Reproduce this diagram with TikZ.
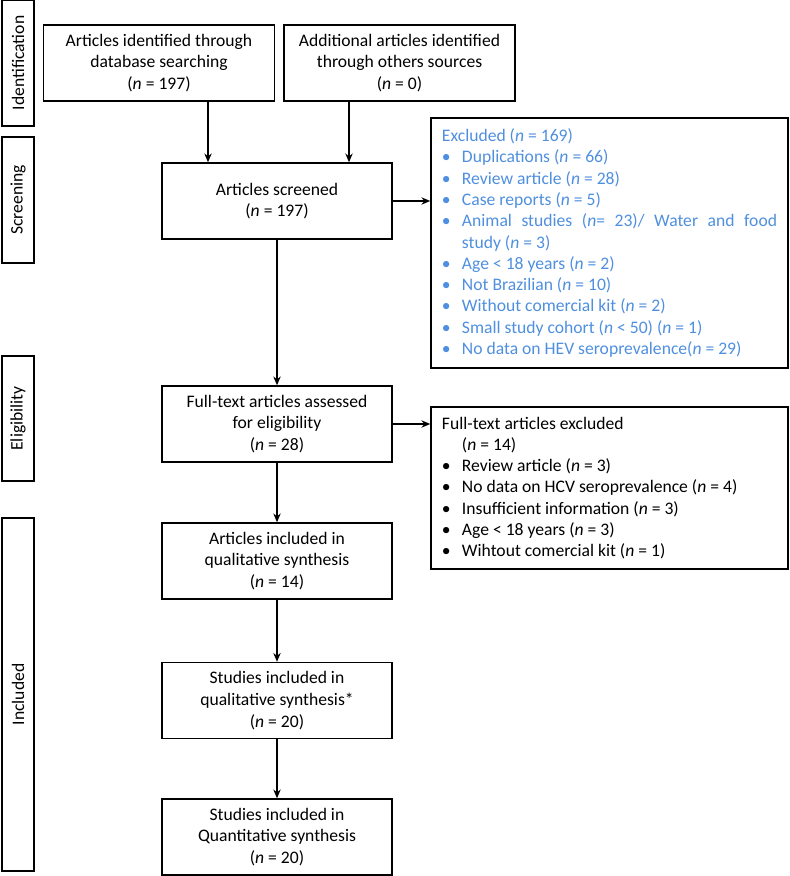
\documentclass[tikz,border=0pt]{standalone}
\usepackage{fontspec}
\setmainfont{Carlito}
\usetikzlibrary{arrows.meta,calc}
\definecolor{exblue}{RGB}{79,143,223}
\newcommand\bul[1]{\par\hangindent=12.5pt\hangafter=1\noindent\makebox[12.5pt][l]{\textbullet}#1}
\begin{document}
\begin{tikzpicture}[x=0.625pt,y=-0.625pt,
  every node/.style={font=\fontsize{11pt}{13.6pt}\selectfont},
  box/.style={draw, line width=0.9pt, align=center, inner sep=0pt,
    minimum width=143.75pt, minimum height=47.5pt},
  side/.style={draw, line width=0.9pt, inner sep=0pt, rotate=90,
    minimum height=20pt},
  listbox/.style={draw, line width=0.9pt, align=justify, text width=209.4pt,
    inner xsep=6.9pt, inner ysep=0pt, minimum width=223.1pt,
    font=\fontsize{11pt}{13.3pt}\selectfont},
  arr/.style={line width=0.9pt, -{Stealth[length=5.5pt,width=4.6pt]}}
]
\useasboundingbox (0,0) rectangle (789,876);

% side labels
\node[side, minimum width=78.75pt] (sid) at (18,63) {Identification};
\node[side, minimum width=78.75pt] (sscr) at (18,200) {Screening};
\node[side, minimum width=78.1pt] (selig) at (18,418.5) {Eligibility};
\node[side, minimum width=220.6pt] (sinc) at (18,694.5) {Included};

% main boxes
\node[box, minimum width=144.4pt] (b1) at (159,63) {Articles identified through\\database searching\\(\textit{n} = 197)};
\node[box, minimum width=144.4pt] (b2) at (399.5,63) {Additional articles identified\\through others sources\\(\textit{n} = 0)};
\node[box] (scr) at (277,201) {Articles screened\\(\textit{n} = 197)};
\node[box] (elig) at (277,424) {Full-text articles assessed\\for eligibility\\(\textit{n} = 28)};
\node[box] (inc) at (277,561) {Articles included in\\qualitative synthesis\\(\textit{n} = 14)};
\node[box] (qual) at (277,700.5) {Studies included in\\qualitative synthesis*\\(\textit{n} = 20)};
\node[box] (quant) at (277,837) {Studies included in\\Quantitative synthesis\\(\textit{n} = 20)};

% exclusion boxes
\node[listbox, minimum height=156.25pt, text=exblue] (exc) at (609.5,243) {%
\noindent Excluded (\textit{n} = 169)
\bul{Duplications (\textit{n} = 66)}
\bul{Review article (\textit{n} = 28)}
\bul{Case reports (\textit{n} = 5)}
\bul{Animal studies (\textit{n}= 23)/ Water and food\linebreak study (\textit{n} = 3)}
\bul{Age < 18 years (\textit{n} = 2)}
\bul{Not Brazilian (\textit{n} = 10)}
\bul{Without comercial kit (\textit{n} = 2)}
\bul{Small study cohort (\textit{n} < 50) (\textit{n} = 1)}
\bul{No data on HEV seroprevalence(\textit{n} = 29)}};

\node[listbox, minimum height=101.25pt] (ftex) at (609.5,488) {%
\hangindent=12.5pt\hangafter=1\noindent Full-text articles excluded\newline (\textit{n} = 14)
\bul{Review article (\textit{n} = 3)}
\bul{No data on HCV seroprevalence (\textit{n} = 4)}
\bul{Insufficient information (\textit{n} = 3)}
\bul{Age < 18 years (\textit{n} = 3)}
\bul{Wihtout comercial kit (\textit{n} = 1)}};

% connectors
\coordinate (a1) at ($(b1.south)+(49,0)$);
\coordinate (a2) at ($(b2.south)+(-50.5,0)$);
\draw[arr] (a1) -- (a1 |- scr.north);
\draw[arr] (a2) -- (a2 |- scr.north);
\draw[arr] (scr.south) -- (elig.north);
\draw[arr] (elig.south) -- (inc.north);
\draw[arr] (inc.south) -- (qual.north);
\draw[arr] (qual.south) -- (quant.north);
\draw[arr] (scr.east) -- (scr.east -| exc.west);
\draw[arr] (elig.east) -- (elig.east -| ftex.west);
\end{tikzpicture}
\end{document}
